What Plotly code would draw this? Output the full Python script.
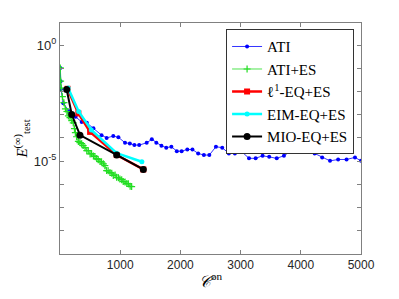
import plotly.graph_objects as go

# ATI
ati_x = [5, 10, 15, 55, 150, 260, 360, 445, 555, 690, 775, 885, 970, 1080, 1160, 1235, 1315, 1440, 1525,
         1600, 1685, 1765, 1850, 1940, 2020, 2115, 2200, 2295, 2390, 2480, 2590, 2695, 2805, 2905, 3025,
         3140, 3250, 3365, 3475, 3600, 3720, 3840, 3970, 4100, 4230, 4355, 4485, 4620, 4760, 4900, 5000]
ati_log = [-0.98, -1.55, -1.90, -2.50, -2.85, -3.09, -3.31, -3.35, -3.58, -3.88, -4.00, -3.92, -3.97, -4.21,
           -4.24, -4.31, -4.31, -4.21, -4.06, -4.21, -4.34, -4.42, -4.38, -4.57, -4.57, -4.50, -4.50, -4.67,
           -4.74, -4.74, -4.38, -4.42, -4.67, -4.67, -4.61, -4.88, -4.88, -4.77, -4.81, -4.88, -4.77, -4.56,
           -4.61, -4.61, -4.67, -4.84, -4.99, -4.93, -4.93, -4.84, -4.99]

# ATI+ES
es_x = [5, 10, 20, 40, 65, 90, 115, 140, 165, 195, 220, 240, 255, 275, 305, 330, 360, 385, 415, 445, 470,
        500, 525, 555, 580, 610, 635, 665, 690, 720, 745, 775, 800, 830, 860, 885, 915, 940, 970, 995, 1025,
        1050, 1080, 1110, 1135, 1165, 1190]
es_log = [-0.98, -1.55, -1.85, -2.22, -2.48, -2.75, -2.86, -3.05, -3.12, -3.25, -3.35, -3.60, -3.77, -3.95,
          -4.15, -4.20, -4.25, -4.33, -4.42, -4.55, -4.55, -4.69, -4.68, -4.78, -4.80, -4.89, -4.94, -5.02,
          -5.03, -5.12, -5.20, -5.41, -5.42, -5.49, -5.52, -5.62, -5.60, -5.70, -5.72, -5.77, -5.80, -5.88,
          -5.90, -5.97, -5.98, -6.09, -6.10]

# l1-EQ+ES
l1_x = [125, 305, 500, 942, 1384]
l1_log = [-1.88, -2.94, -3.74, -4.74, -5.36]

# EIM-EQ+ES
eim_x = [135, 310, 520, 942, 1360]
eim_log = [-1.85, -2.86, -3.66, -4.66, -5.03]

# MIO-EQ+ES
mio_x = [111, 195, 332, 942, 1384]
mio_log = [-1.91, -2.99, -3.88, -4.74, -5.36]

names = ["ATI", "ATI+ES", "ℓ<sup>1</sup>-EQ+ES", "EIM-EQ+ES", "MIO-EQ+ES"]


def tv(logs):
    return [10 ** v for v in logs]


fig = go.Figure()
fig.add_trace(go.Scatter(x=ati_x, y=tv(ati_log), name=names[0], mode="lines+markers",
                         line=dict(color="#0000FF", width=0.8),
                         marker=dict(symbol="circle", size=4, color="#0000FF")))
fig.add_trace(go.Scatter(x=es_x, y=tv(es_log), name=names[1], mode="lines+markers",
                         line=dict(color="#22DD22", width=0.8),
                         marker=dict(symbol="cross-thin", size=5, color="#22DD22",
                                     line=dict(color="#22DD22", width=1.2))))
fig.add_trace(go.Scatter(x=l1_x, y=tv(l1_log), name=names[2], mode="lines+markers",
                         line=dict(color="#FF0000", width=2.5),
                         marker=dict(symbol="square", size=6, color="#FF0000")))
fig.add_trace(go.Scatter(x=eim_x, y=tv(eim_log), name=names[3], mode="lines+markers",
                         line=dict(color="#00FFFF", width=2.5),
                         marker=dict(symbol="circle", size=5, color="#00FFFF")))
fig.add_trace(go.Scatter(x=mio_x, y=tv(mio_log), name=names[4], mode="lines+markers",
                         line=dict(color="#000000", width=2),
                         marker=dict(symbol="circle", size=7, color="#000000")))

axis_col = "#808080"
serif = "'Liberation Serif', 'Times New Roman', 'DejaVu Serif', serif"
fig.update_layout(
    width=391, height=291,
    margin=dict(l=52, r=38, t=15, b=45),
    paper_bgcolor="white", plot_bgcolor="white",
    font=dict(family="Liberation Sans, Arial", size=12, color="#262626"),
    showlegend=True,
    legend=dict(x=0.977, y=0.973, xanchor="right", yanchor="top",
                bgcolor="white", bordercolor="#333333", borderwidth=1,
                font=dict(family=serif, size=15, color="#000000"),
                itemwidth=30, tracegroupgap=0),
    xaxis=dict(range=[0, 5000], tickvals=[0, 1000, 2000, 3000, 4000, 5000],
               ticktext=["", "1000", "2000", "3000", "4000", "5000"],
               ticks="inside", ticklen=4, tickcolor=axis_col, showline=True, linecolor=axis_col,
               linewidth=1, mirror="ticks", showgrid=False, zeroline=False,
               tickfont=dict(size=12, color="#262626"),
               title=dict(text="<i>𝒞</i><sup>on</sup>", font=dict(family=serif, size=16, color="#000000"),
                          standoff=4)),
    yaxis=dict(type="log", range=[-9.01, 0.96], tickvals=[1, 1e-5],
               ticktext=["10<sup>0</sup>", "10<sup>-5</sup>"],
               ticks="inside", ticklen=4, tickcolor=axis_col, showline=True, linecolor=axis_col,
               linewidth=1, mirror="ticks", showgrid=False, zeroline=False,
               tickfont=dict(size=13, color="#262626"),
               minor=dict(tickvals=[10 ** k for k in range(-9, 1)], ticks="inside", ticklen=4,
                          tickcolor=axis_col),
               title=dict(text="<i>E</i><sup>(∞)</sup><sub>test</sub>",
                          font=dict(family=serif, size=15, color="#000000"),
                          standoff=2)),
)

fig.write_html("out.html")
